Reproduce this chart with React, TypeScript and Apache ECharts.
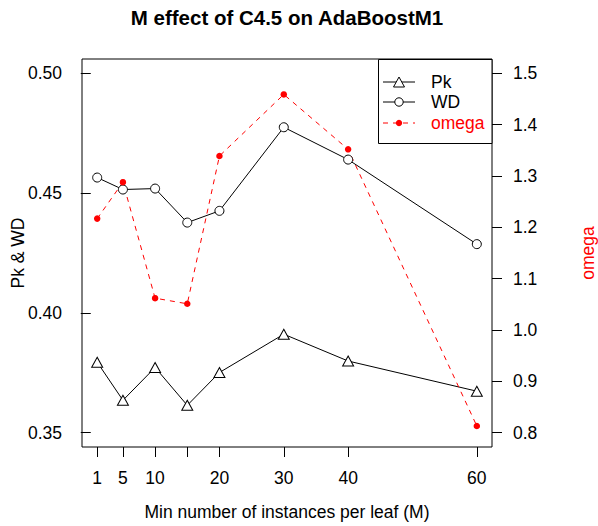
import React, { useEffect, useRef } from "react";
import * as echarts from "echarts";

const xValues = [1, 5, 10, 15, 20, 30, 40, 60];
const pkValues = [0.3794, 0.3635, 0.3772, 0.3614, 0.3751, 0.3911, 0.3799, 0.3673];
const wdValues = [0.4565, 0.4515, 0.4519, 0.4377, 0.4426, 0.4775, 0.464, 0.4287];
const omegaValues = [1.217, 1.288, 1.062, 1.051, 1.339, 1.459, 1.352, 0.813];
const xTickValues = [1, 5, 10, 15, 20, 30, 40, 60];
const xLabelValues = [1, 5, 10, 20, 30, 40, 60];
const leftTickValues = [0.35, 0.4, 0.45, 0.5];
const rightTickValues = [0.8, 0.9, 1.0, 1.1, 1.2, 1.3, 1.4, 1.5];

const FONT = "'Liberation Sans', Arial, Helvetica, sans-serif";

export default function App() {
  const ref = useRef<HTMLDivElement>(null);
  useEffect(() => {
    document.body.style.margin = "0";
    if (!ref.current) return;
    const chart = echarts.init(ref.current, undefined, { renderer: "svg" });
    const pair = (ys: number[]) => xValues.map((x, i) => [x, ys[i]]);
    const tickStyle = { show: true, length: 10, lineStyle: { color: "#000", width: 1 } };
    const lx = 383, lx2 = 415, lcx = 399, ltx = 431;
    const ly = [82, 102, 123];
    chart.setOption({
      animation: false,
      backgroundColor: "#fff",
      grid: {
        left: 82,
        top: 59,
        width: 410,
        height: 388,
        show: true,
        borderColor: "#000",
        borderWidth: 1,
        backgroundColor: "transparent",
        containLabel: false,
        outerBoundsMode: "none",
      },
      xAxis: {
        type: "value",
        min: -1.36,
        max: 62.36,
        axisLine: { show: false },
        splitLine: { show: false },
        axisTick: { ...tickStyle, customValues: xTickValues },
        axisLabel: {
          customValues: xLabelValues,
          margin: 22,
          color: "#000",
          fontSize: 17.5,
          fontFamily: FONT,
          formatter: (v: number) => String(v),
        },
      },
      yAxis: [
        {
          type: "value",
          position: "left",
          min: 0.344,
          max: 0.506,
          axisLine: { show: false },
          splitLine: { show: false },
          axisTick: { ...tickStyle, customValues: leftTickValues },
          axisLabel: {
            customValues: leftTickValues,
            margin: 20,
            color: "#000",
            fontSize: 17.5,
            fontFamily: FONT,
            formatter: (v: number) => v.toFixed(2),
          },
        },
        {
          type: "value",
          position: "right",
          min: 0.772,
          max: 1.528,
          axisLine: { show: false },
          splitLine: { show: false },
          axisTick: { ...tickStyle, customValues: rightTickValues },
          axisLabel: {
            customValues: rightTickValues,
            margin: 21,
            color: "#000",
            fontSize: 17.5,
            fontFamily: FONT,
            formatter: (v: number) => v.toFixed(1),
          },
        },
      ],
      series: [
        {
          name: "Pk",
          type: "line",
          yAxisIndex: 0,
          data: pair(pkValues),
          symbol: "triangle",
          symbolSize: [11, 10],
          lineStyle: { color: "#000", width: 1 },
          itemStyle: { color: "#fff", borderColor: "#000", borderWidth: 1 },
        },
        {
          name: "WD",
          type: "line",
          yAxisIndex: 0,
          data: pair(wdValues),
          symbol: "circle",
          symbolSize: 9,
          lineStyle: { color: "#000", width: 1 },
          itemStyle: { color: "#fff", borderColor: "#000", borderWidth: 1 },
        },
        {
          name: "omega",
          type: "line",
          yAxisIndex: 1,
          data: pair(omegaValues),
          symbol: "circle",
          symbolSize: 6.5,
          lineStyle: { color: "#ff0000", width: 1, type: [5, 5] },
          itemStyle: { color: "#ff0000", borderWidth: 0 },
        },
      ],
      graphic: [
        {
          type: "text",
          x: 287,
          y: 17,
          style: {
            text: "M effect of C4.5 on AdaBoostM1",
            font: `bold 20.5px ${FONT}`,
            fill: "#000",
            align: "center",
            verticalAlign: "middle",
          },
        },
        {
          type: "text",
          x: 287,
          y: 512,
          style: {
            text: "Min number of instances per leaf (M)",
            font: `17.5px ${FONT}`,
            fill: "#000",
            align: "center",
            verticalAlign: "middle",
          },
        },
        {
          type: "text",
          x: 18,
          y: 253,
          rotation: Math.PI / 2,
          style: {
            text: "Pk & WD",
            font: `17.5px ${FONT}`,
            fill: "#000",
            align: "center",
            verticalAlign: "middle",
          },
        },
        {
          type: "text",
          x: 588,
          y: 253,
          rotation: Math.PI / 2,
          style: {
            text: "omega",
            font: `17.5px ${FONT}`,
            fill: "#ff0000",
            align: "center",
            verticalAlign: "middle",
          },
        },
        {
          type: "rect",
          shape: { x: 378.5, y: 59.5, width: 113.5, height: 84 },
          style: { fill: "#fff", stroke: "#000", lineWidth: 1 },
        },
        {
          type: "line",
          shape: { x1: lx, y1: ly[0], x2: lx2, y2: ly[0] },
          style: { stroke: "#000", lineWidth: 1 },
        },
        {
          type: "polygon",
          shape: { points: [[lcx, ly[0] - 5], [lcx + 5.5, ly[0] + 5], [lcx - 5.5, ly[0] + 5]] },
          style: { fill: "#fff", stroke: "#000", lineWidth: 1 },
        },
        {
          type: "text",
          x: ltx,
          y: ly[0],
          style: { text: "Pk", font: `17.5px ${FONT}`, fill: "#000", align: "left", verticalAlign: "middle" },
        },
        {
          type: "line",
          shape: { x1: lx, y1: ly[1], x2: lx2, y2: ly[1] },
          style: { stroke: "#000", lineWidth: 1 },
        },
        {
          type: "circle",
          shape: { cx: lcx, cy: ly[1], r: 4.2 },
          style: { fill: "#fff", stroke: "#000", lineWidth: 1 },
        },
        {
          type: "text",
          x: ltx,
          y: ly[1],
          style: { text: "WD", font: `17.5px ${FONT}`, fill: "#000", align: "left", verticalAlign: "middle" },
        },
        {
          type: "line",
          shape: { x1: lx, y1: ly[2], x2: lx2, y2: ly[2] },
          style: { stroke: "#ff0000", lineWidth: 1, lineDash: [5, 5] },
        },
        {
          type: "circle",
          shape: { cx: lcx, cy: ly[2], r: 3.2 },
          style: { fill: "#ff0000" },
        },
        {
          type: "text",
          x: ltx,
          y: ly[2],
          style: { text: "omega", font: `17.5px ${FONT}`, fill: "#ff0000", align: "left", verticalAlign: "middle" },
        },
      ],
    });
    return () => chart.dispose();
  }, []);
  return <div ref={ref} style={{ width: 598, height: 526 }} />;
}
